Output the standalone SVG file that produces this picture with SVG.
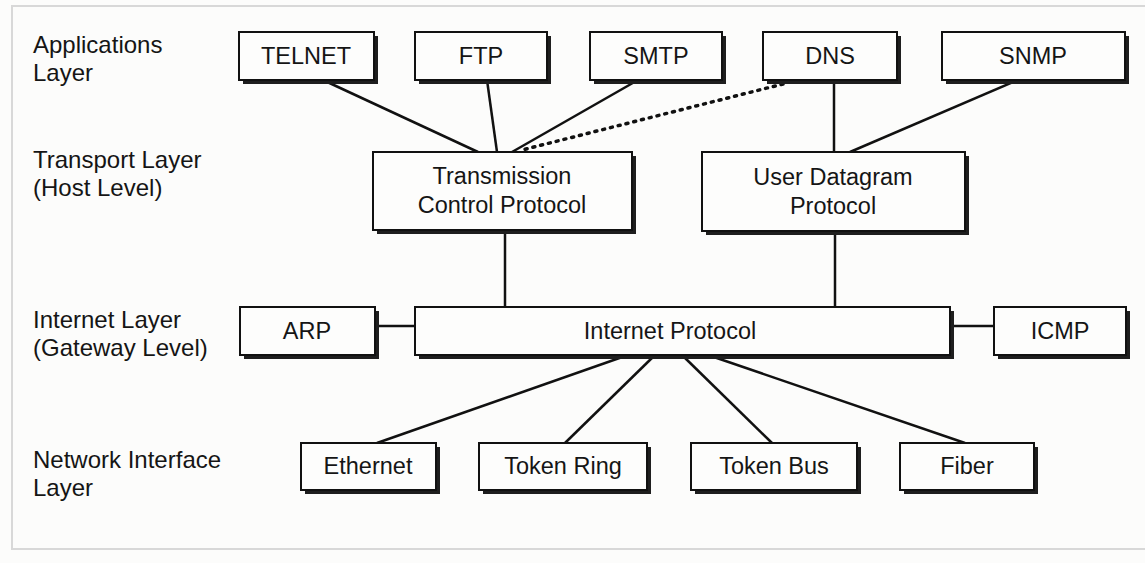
<svg xmlns="http://www.w3.org/2000/svg" width="1145" height="563" viewBox="0 0 1145 563">
<style>
.bg{fill:#fcfcfb}
.frame{fill:none;stroke:#d8d8d8;stroke-width:2}
.sh{fill:#1e1e1e}
.bx{fill:#fdfdfc;stroke:#111;stroke-width:2}
.t{font-family:"Liberation Sans",Arial,sans-serif;font-size:23.5px;fill:#151515;text-anchor:middle}
.lb{font-family:"Liberation Sans",Arial,sans-serif;font-size:24px;fill:#151515}
.ln{stroke:#111;stroke-width:2.5;fill:none}
.dt{stroke:#111;stroke-width:3.5;fill:none;stroke-dasharray:2 6;stroke-linecap:round}
</style>
<rect class="bg" x="0" y="0" width="1145" height="563"/>
<rect class="frame" x="12" y="6" width="1140" height="543"/>
<g id="layer-labels">
<text class="lb" x="33" y="53">Applications</text>
<text class="lb" x="33" y="81">Layer</text>
<text class="lb" x="33" y="168">Transport Layer</text>
<text class="lb" x="33" y="196">(Host Level)</text>
<text class="lb" x="33" y="328">Internet Layer</text>
<text class="lb" x="33" y="356">(Gateway Level)</text>
<text class="lb" x="33" y="468">Network Interface</text>
<text class="lb" x="33" y="496">Layer</text>
</g>
<g id="connectors">
<line class="ln" x1="323" y1="80" x2="478" y2="152"/>
<line class="ln" x1="487" y1="80" x2="497" y2="152"/>
<line class="ln" x1="638" y1="80" x2="512" y2="152"/>
<line class="dt" x1="783" y1="84" x2="522" y2="150"/>
<line class="ln" x1="834" y1="80" x2="834" y2="152"/>
<line class="ln" x1="1018" y1="80" x2="850" y2="152"/>
<line class="ln" x1="505" y1="230" x2="505" y2="307"/>
<line class="ln" x1="835" y1="230" x2="835" y2="307"/>
<line class="ln" x1="375" y1="326" x2="415" y2="326"/>
<line class="ln" x1="950" y1="326" x2="994" y2="326"/>
<line class="ln" x1="628" y1="355" x2="377" y2="443"/>
<line class="ln" x1="655" y1="355" x2="565" y2="443"/>
<line class="ln" x1="682" y1="355" x2="772" y2="443"/>
<line class="ln" x1="708" y1="355" x2="965" y2="443"/>
</g>
<g id="telnet"><rect class="sh" x="243" y="36" width="135" height="48"/><rect class="bx" x="239" y="32" width="135" height="48"/><text class="t" x="306" y="64">TELNET</text></g>
<g id="ftp"><rect class="sh" x="419" y="36" width="132" height="48"/><rect class="bx" x="415" y="32" width="132" height="48"/><text class="t" x="481" y="64">FTP</text></g>
<g id="smtp"><rect class="sh" x="594" y="36" width="132" height="48"/><rect class="bx" x="590" y="32" width="132" height="48"/><text class="t" x="656" y="64">SMTP</text></g>
<g id="dns"><rect class="sh" x="767" y="36" width="134" height="48"/><rect class="bx" x="763" y="32" width="134" height="48"/><text class="t" x="830" y="64">DNS</text></g>
<g id="snmp"><rect class="sh" x="946" y="36" width="183" height="48"/><rect class="bx" x="942" y="32" width="183" height="48"/><text class="t" x="1033" y="64">SNMP</text></g>
<g id="tcp"><rect class="sh" x="377" y="156" width="259" height="78"/><rect class="bx" x="373" y="152" width="259" height="78"/><text class="t" x="502" y="184">Transmission</text><text class="t" x="502" y="213">Control Protocol</text></g>
<g id="udp"><rect class="sh" x="706" y="156" width="263" height="79"/><rect class="bx" x="702" y="152" width="263" height="79"/><text class="t" x="833" y="185">User Datagram</text><text class="t" x="833" y="214">Protocol</text></g>
<g id="arp"><rect class="sh" x="244" y="311" width="135" height="48"/><rect class="bx" x="240" y="307" width="135" height="48"/><text class="t" x="307" y="339">ARP</text></g>
<g id="ip"><rect class="sh" x="419" y="311" width="535" height="48"/><rect class="bx" x="415" y="307" width="535" height="48"/><text class="t" x="670" y="339">Internet Protocol</text></g>
<g id="icmp"><rect class="sh" x="998" y="311" width="132" height="48"/><rect class="bx" x="994" y="307" width="132" height="48"/><text class="t" x="1060" y="339">ICMP</text></g>
<g id="ethernet"><rect class="sh" x="305" y="447" width="135" height="47"/><rect class="bx" x="301" y="443" width="135" height="47"/><text class="t" x="368" y="474">Ethernet</text></g>
<g id="tokenring"><rect class="sh" x="483" y="447" width="168" height="47"/><rect class="bx" x="479" y="443" width="168" height="47"/><text class="t" x="563" y="474">Token Ring</text></g>
<g id="tokenbus"><rect class="sh" x="695" y="447" width="166" height="47"/><rect class="bx" x="691" y="443" width="166" height="47"/><text class="t" x="774" y="474">Token Bus</text></g>
<g id="fiber"><rect class="sh" x="904" y="447" width="134" height="47"/><rect class="bx" x="900" y="443" width="134" height="47"/><text class="t" x="967" y="474">Fiber</text></g>
</svg>
